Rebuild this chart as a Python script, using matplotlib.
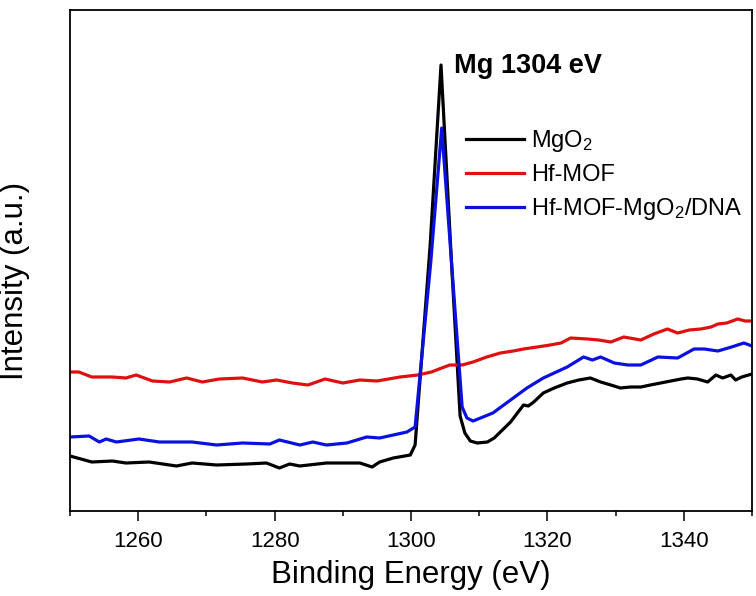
import matplotlib.pyplot as plt
from matplotlib.ticker import MultipleLocator

plt.rcParams['font.family'] = ['Liberation Sans', 'DejaVu Sans']
plt.rcParams['mathtext.default'] = 'regular'

# Datos (eje y en unidades arbitrarias)
mgo2_x = [1250.0, 1253.2, 1256.2, 1258.2, 1261.6, 1265.6, 1267.9, 1271.5, 1275.9, 1278.8,
          1280.7, 1282.2, 1283.7, 1287.6, 1292.5, 1294.3, 1295.4, 1297.4, 1299.9, 1300.6,
          1302.8, 1304.4, 1306.0, 1307.2, 1307.9, 1308.7, 1309.7, 1311.2, 1312.2, 1313.1,
          1314.6, 1315.6, 1316.5, 1317.2, 1318.0, 1319.4, 1321.0, 1322.9, 1324.6, 1326.3,
          1327.8, 1329.3, 1330.7, 1332.2, 1333.7, 1335.1, 1336.6, 1338.1, 1339.6, 1340.6,
          1342.0, 1343.5, 1344.7, 1345.7, 1346.9, 1347.6, 1348.5, 1350.0]
mgo2_y = [55, 49, 50, 48, 49, 45, 48, 46, 47, 48,
          43, 47, 45, 48, 48, 44, 49, 53, 56, 66,
          265, 446, 241, 95, 78, 70, 68, 69, 73, 79,
          89, 98, 106, 105, 109, 118, 123, 128, 131, 133,
          129, 126, 123, 124, 124, 126, 128, 130, 132, 133,
          132, 129, 136, 133, 136, 131, 134, 137]

hfmof_x = [1250.0, 1251.3, 1253.2, 1256.2, 1258.2, 1259.7, 1262.1, 1264.6, 1267.1, 1269.4,
           1271.9, 1275.3, 1278.2, 1280.3, 1282.6, 1284.9, 1287.4, 1290.0, 1292.5, 1295.0,
           1298.4, 1301.0, 1303.0, 1304.5, 1305.7, 1307.5, 1309.1, 1311.1, 1313.1, 1315.0,
           1316.5, 1318.5, 1320.4, 1322.0, 1323.4, 1325.9, 1327.5, 1329.3, 1331.2, 1333.7,
           1335.6, 1337.6, 1339.1, 1340.8, 1342.5, 1344.0, 1345.0, 1346.3, 1347.9, 1349.0,
           1350.0]
hfmof_y = [139, 139, 134, 134, 133, 136, 130, 129, 133, 129,
           132, 133, 129, 131, 128, 126, 132, 128, 131, 130,
           134, 136, 139, 143, 146, 146, 149, 154, 158, 160,
           162, 164, 166, 168, 173, 172, 171, 169, 174, 171,
           177, 182, 178, 181, 182, 184, 187, 188, 192, 190,
           190]

hfmof_dna_x = [1250.0, 1252.8, 1254.3, 1255.3, 1256.8, 1260.1, 1263.1, 1267.9, 1271.5, 1275.3,
               1279.3, 1280.7, 1283.7, 1285.6, 1287.6, 1290.6, 1293.5, 1295.4, 1299.4, 1300.6,
               1302.9, 1304.5, 1306.0, 1307.5, 1308.2, 1309.1, 1312.0, 1314.6, 1317.0, 1319.4,
               1322.9, 1325.3, 1326.6, 1327.8, 1329.8, 1331.8, 1333.7, 1336.2, 1339.1, 1341.5,
               1343.0, 1345.0, 1347.0, 1348.8, 1350.0]
hfmof_dna_y = [74, 75, 69, 72, 69, 72, 69, 69, 66, 68,
               67, 71, 66, 69, 66, 68, 74, 73, 79, 84,
               249, 383, 243, 104, 93, 90, 98, 111, 123, 133,
               144, 154, 151, 154, 148, 146, 146, 154, 153, 162,
               162, 160, 164, 168, 165]

fig = plt.figure(figsize=(7.56, 5.96), dpi=100)
ax = fig.add_axes([70 / 756, 1 - 511 / 596, 682 / 756, 501 / 596])

ax.plot(mgo2_x, mgo2_y, color='black', lw=2.3, label='MgO$_2$')
ax.plot(hfmof_x, hfmof_y, color='#e01010', lw=2.3, label='Hf-MOF')
ax.plot(hfmof_dna_x, hfmof_dna_y, color='#0a10e0', lw=2.3, label='Hf-MOF-MgO$_2$/DNA')

ax.set_xlim(1250, 1350)
ax.set_ylim(0, 501)
ax.xaxis.set_minor_locator(MultipleLocator(10))
ax.set_xticks([1260, 1280, 1300, 1320, 1340])
ax.set_yticks([])
ax.tick_params(axis='x', which='major', direction='out', length=7.2, width=1.1,
               labelsize=16, pad=7)
ax.tick_params(axis='x', which='minor', direction='out', length=3.6, width=1.1)
for s in ax.spines.values():
    s.set_linewidth(1.3)

ax.set_xlabel('Binding Energy (eV)', fontsize=22.5, labelpad=6)
ax.set_ylabel('Intensity (a.u.)', fontsize=22.5)
ax.yaxis.set_label_coords(-0.0587, 0.459)

ax.text(1306.3, 438, 'Mg 1304 eV', fontsize=19.5, fontweight='bold', va='baseline')

ax.legend(loc='upper left', bbox_to_anchor=(0.5806, 0.764), frameon=False,
          fontsize=17, handlelength=2.46, handletextpad=0.3, labelspacing=0.42,
          borderpad=0, borderaxespad=0)

plt.savefig('out.png', dpi=100)
